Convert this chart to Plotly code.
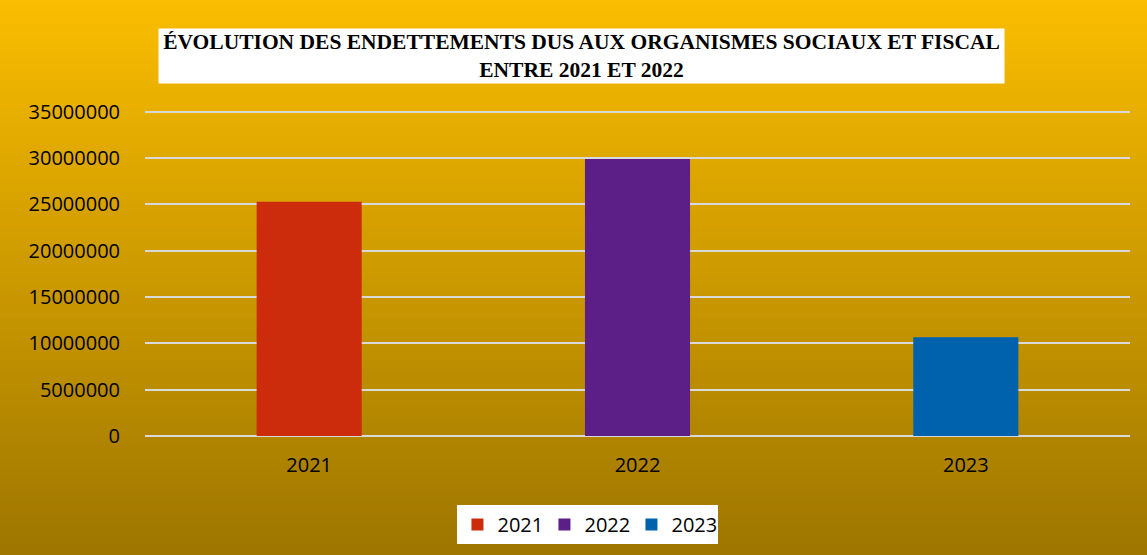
import plotly.graph_objects as go

# data
years = ["2021", "2022", "2023"]
debts = [25300000, 29900000, 10650000]
bar_colors = ["#CC2C0B", "#5C1F88", "#0062AC"]

title_text = ("<b>ÉVOLUTION DES ENDETTEMENTS DUS AUX ORGANISMES SOCIAUX ET FISCAL"
              "<br>ENTRE 2021 ET 2022</b>")

fig = go.Figure()
for yr, val, col in zip(years, debts, bar_colors):
    fig.add_trace(go.Bar(
        x=[yr], y=[val], name=yr,
        marker=dict(color=col, line=dict(width=0)),
        width=0.32,
    ))

# gold gradient background: overlapping strips, each one reaching the bottom
top = (250, 189, 0)
bottom = (158, 118, 0)
n = 80
y_top, y_bot = 1.35, -0.37
shapes = []
for i in range(n):
    t = i / (n - 1)
    c = tuple(round(top[k] + (bottom[k] - top[k]) * t) for k in range(3))
    shapes.append(dict(
        type="rect", xref="paper", yref="paper", layer="below",
        x0=-0.2, x1=1.1,
        y0=y_bot - 0.05, y1=y_top - i * (y_top - y_bot) / n,
        fillcolor="rgb(%d,%d,%d)" % c, line=dict(width=0),
    ))

fig.update_layout(
    width=1147, height=555,
    margin=dict(l=145, r=17, t=110, b=118),
    paper_bgcolor="rgba(0,0,0,0)",
    plot_bgcolor="rgba(0,0,0,0)",
    barmode="overlay",
    shapes=shapes,
    font=dict(family="Open Sans, Lato, sans-serif", size=20, color="#000000"),
    showlegend=True,
    legend=dict(
        orientation="h", x=0.4497, xanchor="center", y=-0.208, yanchor="top",
        bgcolor="white", font=dict(size=20), itemwidth=30,
        borderwidth=0, entrywidth=42,
    ),
    annotations=[dict(
        text=title_text, xref="paper", yref="paper",
        x=0.443, y=1.166, xanchor="center", yanchor="middle",
        showarrow=False, bgcolor="white", width=843, height=52,
        font=dict(family="Liberation Serif, Times New Roman, serif", size=21.5, color="#000000"),
    )],
)

fig.update_xaxes(
    type="category", showgrid=False, showline=False, ticks="",
    ticklabelstandoff=15,
)
fig.update_yaxes(
    range=[0, 35200000], dtick=5000000, tickformat="d",
    showgrid=True, gridcolor="#D9D9D9", gridwidth=1.5,
    zeroline=True, zerolinecolor="#D9D9D9", zerolinewidth=1.5,
    ticks="", ticklabelstandoff=24,
)

fig.write_html("out.html", config={"displayModeBar": False},
               post_script="document.body.style.margin='0';")
